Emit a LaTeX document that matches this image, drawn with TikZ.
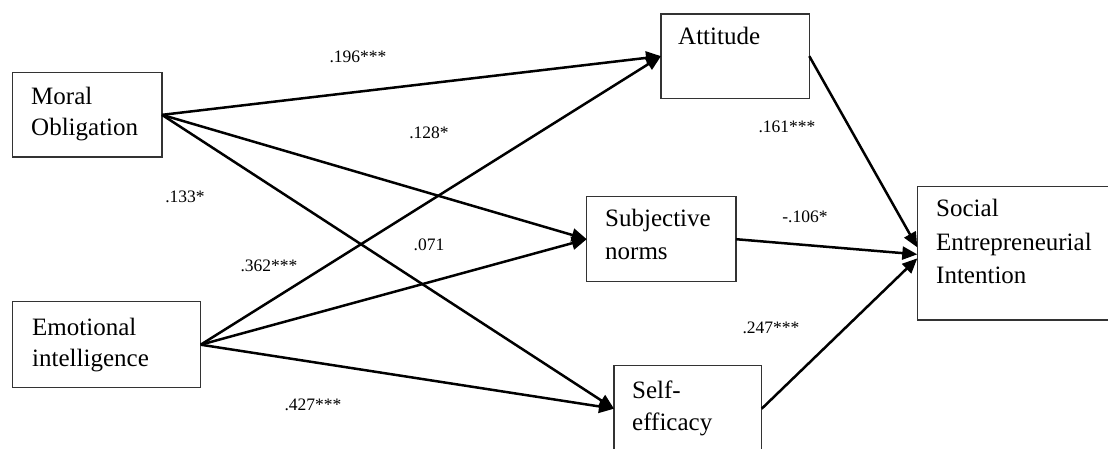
\documentclass[tikz,border=0pt]{standalone}
\usepackage{fontspec}
\setmainfont{Liberation Serif}
\usetikzlibrary{arrows.meta,calc}
\begin{document}
\begin{tikzpicture}[x=1pt,y=-1pt,
  box/.style={draw=black!80, line width=1.5pt, inner sep=0pt, outer sep=0pt, anchor=north west, fill=none},
  txt/.style={inner sep=0pt, anchor=base west, font=\fontsize{25}{30}\selectfont},
  lbl/.style={inner sep=0pt, anchor=center, font=\fontsize{17.5}{20}\selectfont},
  conn/.style={line width=2.5pt, -{Triangle[length=15pt,width=13pt]}}]
\useasboundingbox (0,0) rectangle (1108,448);
\clip (0,0) rectangle (1108,448);
% boxes
\node[box, minimum width=149.3pt, minimum height=84.3pt] (mo) at (12.7,72.7) {};
\node[box, minimum width=188pt, minimum height=86pt] (ei) at (12.7,301.7) {};
\node[box, minimum width=148.3pt, minimum height=84.3pt] (att) at (661,14) {};
\node[box, minimum width=149.3pt, minimum height=85pt] (sn) at (586.7,196.7) {};
\node[box, minimum width=147.7pt, minimum height=86pt] (se) at (614,365.7) {};
\node[box, minimum width=220pt, minimum height=133.3pt] (sei) at (917.3,186.7) {};
% texts
\node[txt] (moA) at (31,104.3) {Moral};
\node[txt] (moB) at (31,135.5) {Obligation};
\node[txt] (eiA) at (32,335) {Emotional};
\node[txt] (eiB) at (32,366) {intelligence};
\node[txt] (attA) at (678,44) {Attitude};
\node[txt] (snA) at (605,226.7) {Subjective};
\node[txt] (snB) at (605,259.5) {norms};
\node[txt] (seA) at (632,398) {Self-};
\node[txt] (seB) at (632,430) {efficacy};
\node[txt] (seiA) at (936,216.7) {Social};
\node[txt] (seiB) at (936,250.7) {Entrepreneurial};
\node[txt] (seiC) at (936,283.3) {Intention};
% connectors
\draw[conn] (mo.east) -- (att.west);
\draw[conn] (mo.east) -- (sn.west);
\draw[conn] (mo.east) -- (se.west);
\draw[conn] (ei.east) -- (att.west);
\draw[conn] (ei.east) -- (sn.west);
\draw[conn] (ei.east) -- (se.west);
\draw[conn] (att.east) -- ($(sei.west)+(0,-6)$);
\draw[conn] (sn.east) -- ($(sei.west)+(0,1)$);
\draw[conn] (se.east) -- ($(sei.west)+(0,5)$);
% labels
\node[lbl] (l1) at (358,57) {.196***};
\node[lbl] (l2) at (429,133) {.128*};
\node[lbl] (l3) at (185,197) {.133*};
\node[lbl] (l4) at (429,245) {.071};
\node[lbl] (l5) at (269,266) {.362***};
\node[lbl] (l6) at (313,405) {.427***};
\node[lbl] (l7) at (787,127) {.161***};
\node[lbl] (l8) at (805,217) {-.106*};
\node[lbl] (l9) at (771,328) {.247***};
\end{tikzpicture}
\end{document}
